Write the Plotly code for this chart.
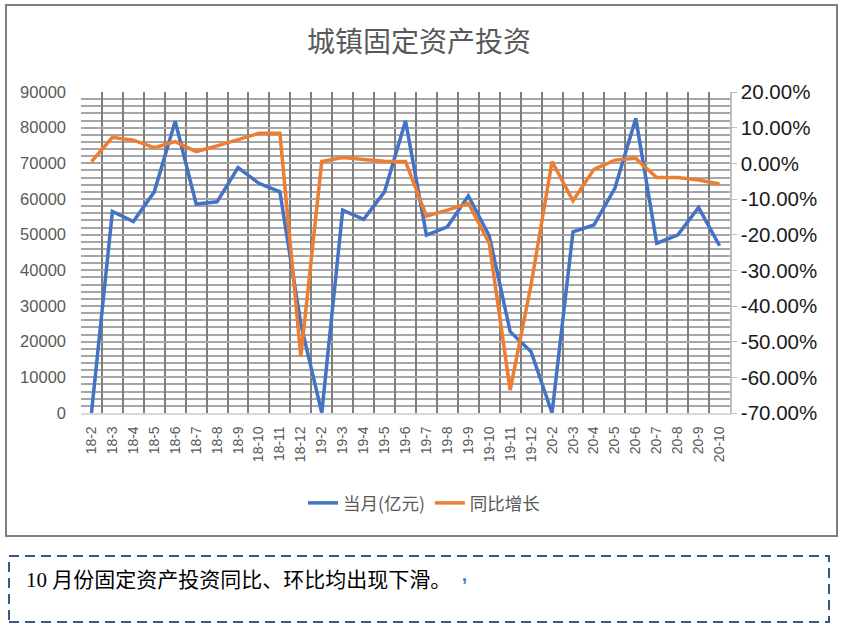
import plotly.graph_objects as go

# ---------------- data ----------------
months = ["18-2", "18-3", "18-4", "18-5", "18-6", "18-7", "18-8", "18-9", "18-10", "18-11", "18-12",
          "19-2", "19-3", "19-4", "19-5", "19-6", "19-7", "19-8", "19-9", "19-10", "19-11", "19-12",
          "20-2", "20-3", "20-4", "20-5", "20-6", "20-7", "20-8", "20-9", "20-10"]

monthly = [0, 56500, 53700, 62000, 81800, 58600, 59200, 68800, 64400, 62000, 25000,
           0, 56900, 54300, 62000, 81900, 49900, 52200, 60900, 49700, 22800, 17200,
           0, 50800, 52700, 63000, 82600, 47600, 49900, 57600, 46900]

yoy_pct = [0.5, 7.3, 6.5, 4.4, 6.1, 3.3, 4.9, 6.7, 8.4, 8.4, -54.2,
           0.5, 1.6, 1.1, 0.6, 0.5, -14.8, -13.1, -11.2, -22.4, -63.6, -34.0,
           0.5, -10.5, -1.7, 0.9, 1.4, -4.0, -4.0, -4.7, -5.8]

left_tick_vals = [0, 10000, 20000, 30000, 40000, 50000, 60000, 70000, 80000, 90000]
left_tick_text = ["0", "10000", "20000", "30000", "40000", "50000", "60000", "70000", "80000", "90000"]
right_tick_vals = [-70, -60, -50, -40, -30, -20, -10, 0, 10, 20]
right_tick_text = ["-70.00%", "-60.00%", "-50.00%", "-40.00%", "-30.00%", "-20.00%",
                   "-10.00%", "0.00%", "10.00%", "20.00%"]

title_text = "城镇固定资产投资"
name_monthly = "当月(亿元)"
name_yoy = "同比增长"
note_text = "10 月份固定资产投资同比、环比均出现下滑。"

# ---------------- layout geometry ----------------
W, H = 844, 636
L, R, T, B = 81, 730, 92, 413


def px_x(px):
    return (px - L) / (R - L)


def px_y(py):
    return (B - py) / (B - T)


SANS = "Liberation Sans, Arial, Noto Sans CJK SC, sans-serif"
CJK = "Noto Sans CJK SC, Liberation Sans, sans-serif"

fig = go.Figure()
fig.add_trace(go.Scatter(x=months, y=monthly, name=name_monthly, mode="lines",
                         line=dict(color="#4472C4", width=3.5)))
fig.add_trace(go.Scatter(x=months, y=yoy_pct, name=name_yoy, mode="lines", yaxis="y2",
                         line=dict(color="#ED7D31", width=3.5)))

fig.update_layout(
    width=W, height=H, autosize=False,
    margin=dict(l=L, r=W - R, t=T, b=H - B, pad=0),
    paper_bgcolor="white", plot_bgcolor="white",
    title=dict(text=title_text, font=dict(family=CJK, size=28, color="#595959"),
               x=419 / W, xanchor="center", xref="container",
               y=1 - 42 / H, yanchor="middle", yref="container"),
    xaxis=dict(type="category", tickson="boundaries", showgrid=True,
               gridcolor="#7f7f7f", gridwidth=2, ticks="", tickangle=-90,
               tickfont=dict(family=SANS, size=14, color="#595959"),
               showline=True, linecolor="#d9d9d9", linewidth=1.5,
               ticklabelstandoff=6, range=[-0.5, len(months) - 0.5]),
    yaxis=dict(range=[0, 90000], tickmode="array", tickvals=left_tick_vals, ticktext=left_tick_text,
               showgrid=True, gridcolor="#a6a6a6", gridwidth=1.6,
               minor=dict(tickmode="linear", tick0=0, dtick=2000, showgrid=True,
                          gridcolor="#a6a6a6", gridwidth=1.6),
               zeroline=False, showline=False, ticks="",
               tickfont=dict(family=SANS, size=16.5, color="#595959"),
               ticklabelstandoff=14),
    yaxis2=dict(overlaying="y", side="right", range=[-70, 20], tickmode="array",
                tickvals=right_tick_vals, ticktext=right_tick_text,
                showgrid=False, zeroline=False, ticks="outside", ticklen=5,
                tickcolor="#bfbfbf", showline=True, linecolor="#bfbfbf", linewidth=1.5,
                tickfont=dict(family=SANS, size=20.5, color="#1a1a1a")),
    legend=dict(orientation="h", x=px_x(424), xanchor="center", y=px_y(503), yanchor="middle",
                font=dict(family=CJK, size=17.5, color="#595959"), bgcolor="rgba(0,0,0,0)"),
    showlegend=True,
)

# outer chart frame
fig.add_shape(type="rect", xref="paper", yref="paper",
              x0=px_x(6), x1=px_x(837), y0=px_y(536), y1=px_y(5),
              line=dict(color="#7f7f7f", width=2), fillcolor="rgba(0,0,0,0)", layer="below")
# dashed note box
fig.add_shape(type="rect", xref="paper", yref="paper",
              x0=px_x(9), x1=px_x(829), y0=px_y(622), y1=px_y(556),
              line=dict(color="#3a5683", width=2, dash="10px,6px"), fillcolor="rgba(0,0,0,0)")

fig.add_annotation(text=note_text, xref="paper", yref="paper", x=px_x(24), y=px_y(580),
                   xanchor="left", yanchor="middle", showarrow=False,
                   font=dict(family="Liberation Serif, Noto Sans CJK SC, serif", size=21, color="#000000"))
fig.add_annotation(text="<b>,</b>", xref="paper", yref="paper", x=px_x(464), y=px_y(575),
                   xanchor="center", yanchor="middle", showarrow=False,
                   font=dict(family=SANS, size=18, color="#4472C4"))

fig.write_html("out.html", config={"displayModeBar": False},
               post_script="document.body.style.margin='0';")
